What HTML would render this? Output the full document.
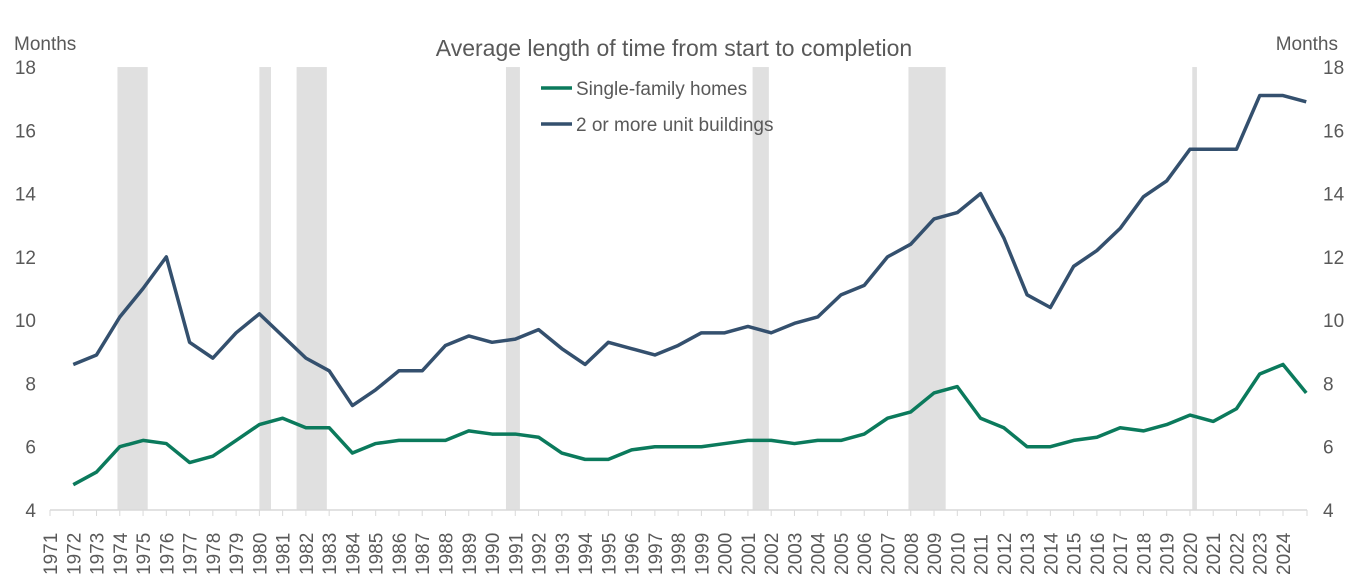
<!DOCTYPE html>
<html><head><meta charset="utf-8"><style>
body{margin:0;background:#fff;}
svg{display:block;font-family:"Liberation Sans",Arial,sans-serif;}
</style></head><body>
<svg id="chart" width="1371" height="586" viewBox="0 0 1371 586" xmlns="http://www.w3.org/2000/svg">
<g id="bands"></g>
<g id="axes"></g>
<g id="lines"></g>
<text x="674" y="56" font-size="23" fill="#595959" text-anchor="middle">Average length of time from start to completion</text>
<text x="14" y="50" font-size="19" fill="#595959">Months</text>
<text x="1338" y="50" font-size="19" fill="#595959" text-anchor="end">Months</text>
<g>
<line x1="541" y1="88" x2="572" y2="88" stroke="#0b7a5c" stroke-width="3.5"/>
<text x="576" y="95" font-size="19" fill="#595959">Single-family homes</text>
<line x1="541" y1="124" x2="572" y2="124" stroke="#34506e" stroke-width="3.5"/>
<text x="576" y="131" font-size="19" fill="#595959">2 or more unit buildings</text>
</g>
</svg>
<script>
const years = [1972,1973,1974,1975,1976,1977,1978,1979,1980,1981,1982,1983,1984,1985,1986,1987,1988,1989,1990,1991,1992,1993,1994,1995,1996,1997,1998,1999,2000,2001,2002,2003,2004,2005,2006,2007,2008,2009,2010,2011,2012,2013,2014,2015,2016,2017,2018,2019,2020,2021,2022,2023,2024,2025];
const singleFamily = [4.8,5.2,6.0,6.2,6.1,5.5,5.7,6.2,6.7,6.9,6.6,6.6,5.8,6.1,6.2,6.2,6.2,6.5,6.4,6.4,6.3,5.8,5.6,5.6,5.9,6.0,6.0,6.0,6.1,6.2,6.2,6.1,6.2,6.2,6.4,6.9,7.1,7.7,7.9,6.9,6.6,6.0,6.0,6.2,6.3,6.6,6.5,6.7,7.0,6.8,7.2,8.3,8.6,7.7];
const multiUnit = [8.6,8.9,10.1,11.0,12.0,9.3,8.8,9.6,10.2,9.5,8.8,8.4,7.3,7.8,8.4,8.4,9.2,9.5,9.3,9.4,9.7,9.1,8.6,9.3,9.1,8.9,9.2,9.6,9.6,9.8,9.6,9.9,10.1,10.8,11.1,12.0,12.4,13.2,13.4,14.0,12.6,10.8,10.4,11.7,12.2,12.9,13.9,14.4,15.4,15.4,15.4,17.1,17.1,16.9];
const recessionStarts = [1973.9,1980.0,1981.6,1990.6,2001.2,2007.9,2020.1];
const recessionEnds = [1975.2,1980.5,1982.9,1991.2,2001.9,2009.5,2020.3];
const yTicks = [4,6,8,10,12,14,16,18];
const tickYears = [];
for (let y = 1971; y <= 2024; y++) tickYears.push(y);

const NS = "http://www.w3.org/2000/svg";
const x = yr => 50 + (yr - 1971) * 23.264;
const y = v => 510 - (v - 4) * 31.64;
function mk(tag, attrs, parent){const e=document.createElementNS(NS,tag);for(const k in attrs)e.setAttribute(k,attrs[k]);parent.appendChild(e);return e;}

const bands = document.getElementById('bands');
recessionStarts.forEach((s,i)=>{
  const r = mk('rect',{x:x(s),y:y(18),width:x(recessionEnds[i])-x(s),height:y(4)-y(18),fill:'#e0e0e0'},bands);
  
  
});

const axes = document.getElementById('axes');
const base = mk('line',{x1:50,y1:510,x2:1307,y2:510,stroke:'#d9d9d9','stroke-width':1.5},axes);


tickYears.forEach(yr=>{
  const t = mk('line',{x1:x(yr),y1:510,x2:x(yr),y2:516,stroke:'#d9d9d9','stroke-width':1},axes);
  
  
  const lb = mk('text',{transform:`translate(${x(yr)+7},575) rotate(-90)`,'font-size':19,fill:'#595959'},axes);
  lb.textContent = yr;
  
  
});
mk('line',{x1:1307,y1:510,x2:1307,y2:516,stroke:'#d9d9d9'},axes);
yTicks.forEach(v=>{
  const l = mk('text',{x:36,y:y(v)+7,'font-size':19,fill:'#595959','text-anchor':'end'},axes);
  l.textContent = v;
  
  
  const r = mk('text',{x:1323,y:y(v)+7,'font-size':19,fill:'#595959'},axes);
  r.textContent = v;
  
  
});

const lines = document.getElementById('lines');
function series(vals,color,name){
  const p = mk('polyline',{points:vals.map((v,i)=>x(years[i])+','+y(v)).join(' '),fill:'none',stroke:color,'stroke-width':3.5,'stroke-linejoin':'round'},lines);
  
  
}
series(singleFamily,'#0b7a5c','single-family-line');
series(multiUnit,'#34506e','multi-unit-line');
</script>
</body></html>
